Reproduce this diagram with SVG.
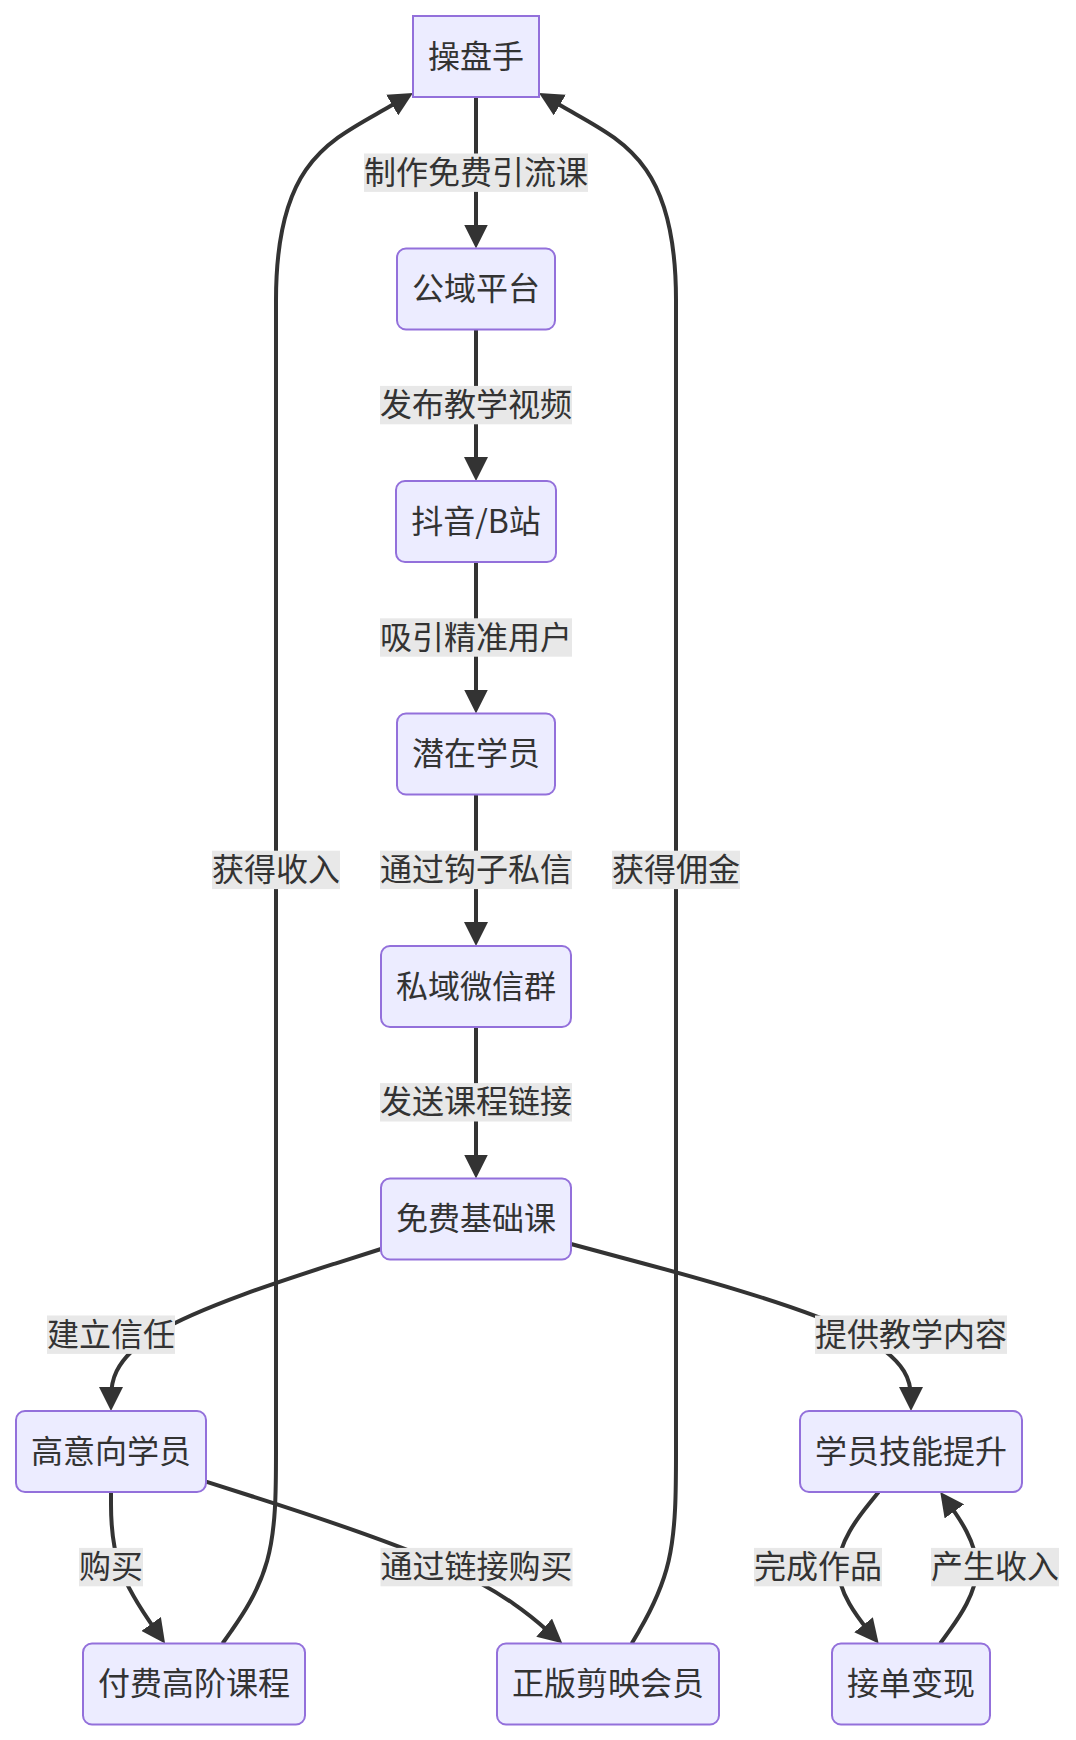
<svg xmlns="http://www.w3.org/2000/svg" width="1076" height="1740" viewBox="0 0 1076 1740">
<style>
.node rect{fill:#ECECFF;stroke:#9370DB;stroke-width:2}
.node text,.elabel text{font-family:"Noto Sans CJK SC","Noto Sans",sans-serif;font-size:32px;fill:#333;text-anchor:middle;dominant-baseline:central}
.edge{fill:none;stroke:#333;stroke-width:4;marker-end:url(#arrow)}
.elabel rect{fill:#e8e8e8}
</style>
<defs>
<marker id="arrow" viewBox="0 0 10 10" refX="5" refY="5" markerUnits="userSpaceOnUse" markerWidth="24" markerHeight="24" orient="auto"><path d="M0,0 L10,5 L0,10 z" fill="#333"/></marker>
</defs>
<rect width="1076" height="1740" fill="#fff"/>
<g id="edges">
<path class="edge" d="M476,97 L476,236.5"/>
<path class="edge" d="M476,329.5 L476,469"/>
<path class="edge" d="M476,562 L476,701.5"/>
<path class="edge" d="M476,794.5 L476,934"/>
<path class="edge" d="M476,1027 L476,1166.5"/>
<path class="edge" d="M381,1249 L336,1263.3 C291,1277.7 201,1306.3 156,1333.3 C111,1360.3 111,1385.7 111,1398.3 L111,1399"/>
<path class="edge" d="M571,1244 L627.7,1259.2 C684.3,1274.3 797.7,1304.7 854.3,1332.5 C911,1360.3 911,1385.7 911,1398.3 L911,1399"/>
<path class="edge" d="M111,1492 L111,1504.6 C111,1517.2 111,1542.5 120,1567.7 C129,1593 147.1,1618.2 156.1,1630.9 L158.1,1633.7"/>
<path class="edge" d="M206,1481.7 L251.1,1496 C296.2,1510.4 386.3,1539 445.7,1566 C505.1,1593 533.6,1618.2 547.9,1630.9 L553.2,1635.5"/>
<path class="edge" d="M878.6,1492 L868.5,1504.6 C858.4,1517.2 838.2,1542.5 838.2,1567.7 C838.2,1593 858.4,1618.2 868.5,1630.9 L871.1,1634.1"/>
<path class="edge" d="M940.2,1643.5 L949.3,1630.9 C958.5,1618.2 976.7,1593 976.8,1567.7 C976.8,1542.5 958.5,1517.2 949.4,1504.6 L947.3,1501.7"/>
<path class="edge" d="M222.5,1643.5 L231.4,1630.9 C240.3,1618.2 258.2,1593 267.1,1561 C276,1529 276,1490.2 276,1451.5 L276,300 C276,160 330,141 390,106.3 L402.6,99"/>
<path class="edge" d="M631.7,1643.5 L639.1,1630.9 C646.5,1618.2 661.2,1593 668.6,1561 C676,1529 676,1490.2 676,1451.5 L676,300 C676,160 622,141 562,106.3 L549.4,99"/>
</g>
<g id="edge-labels">
<g class="elabel"><rect x="364" y="153.5" width="224" height="38.4"/><text x="476" y="169.7">制作免费引流课</text></g>
<g class="elabel"><rect x="380" y="385.9" width="192" height="38.4"/><text x="476" y="402.1">发布教学视频</text></g>
<g class="elabel"><rect x="380" y="618.3" width="192" height="38.4"/><text x="476" y="634.5">吸引精准用户</text></g>
<g class="elabel"><rect x="380" y="850.7" width="192" height="38.4"/><text x="476" y="866.9">通过钩子私信</text></g>
<g class="elabel"><rect x="380" y="1083.1" width="192" height="38.4"/><text x="476" y="1099.3">发送课程链接</text></g>
<g class="elabel"><rect x="212" y="850.7" width="128" height="38.4"/><text x="276" y="866.9">获得收入</text></g>
<g class="elabel"><rect x="612" y="850.7" width="128" height="38.4"/><text x="676" y="866.9">获得佣金</text></g>
<g class="elabel"><rect x="47" y="1315.5" width="128" height="38.4"/><text x="111" y="1331.7">建立信任</text></g>
<g class="elabel"><rect x="815" y="1315.5" width="192" height="38.4"/><text x="911" y="1331.7">提供教学内容</text></g>
<g class="elabel"><rect x="79" y="1547.9" width="64" height="38.4"/><text x="111" y="1564.1">购买</text></g>
<g class="elabel"><rect x="380.5" y="1547.9" width="192" height="38.4"/><text x="476.5" y="1564.1">通过链接购买</text></g>
<g class="elabel"><rect x="754" y="1547.9" width="128" height="38.4"/><text x="818" y="1564.1">完成作品</text></g>
<g class="elabel"><rect x="931" y="1547.9" width="128" height="38.4"/><text x="995" y="1564.1">产生收入</text></g>
</g>
<g id="n1" class="node"><rect x="413" y="16" width="126" height="81"/><text x="476" y="53.5">操盘手</text></g>
<g id="n2" class="node"><rect x="397" y="248.5" width="158" height="81" rx="9"/><text x="476" y="286">公域平台</text></g>
<g id="n3" class="node"><rect x="396" y="481" width="160" height="81" rx="9"/><text x="476" y="518.5">抖音/B站</text></g>
<g id="n4" class="node"><rect x="397" y="713.5" width="158" height="81" rx="9"/><text x="476" y="751">潜在学员</text></g>
<g id="n5" class="node"><rect x="381" y="946" width="190" height="81" rx="9"/><text x="476" y="983.5">私域微信群</text></g>
<g id="n6" class="node"><rect x="381" y="1178.5" width="190" height="81" rx="9"/><text x="476" y="1216">免费基础课</text></g>
<g id="n7" class="node"><rect x="16" y="1411" width="190" height="81" rx="9"/><text x="111" y="1448.5">高意向学员</text></g>
<g id="n8" class="node"><rect x="800" y="1411" width="222" height="81" rx="9"/><text x="911" y="1448.5">学员技能提升</text></g>
<g id="n9" class="node"><rect x="83" y="1643.5" width="222" height="81" rx="9"/><text x="194" y="1681">付费高阶课程</text></g>
<g id="n10" class="node"><rect x="497" y="1643.5" width="222" height="81" rx="9"/><text x="608" y="1681">正版剪映会员</text></g>
<g id="n11" class="node"><rect x="832" y="1643.5" width="158" height="81" rx="9"/><text x="911" y="1681">接单变现</text></g>
</svg>
